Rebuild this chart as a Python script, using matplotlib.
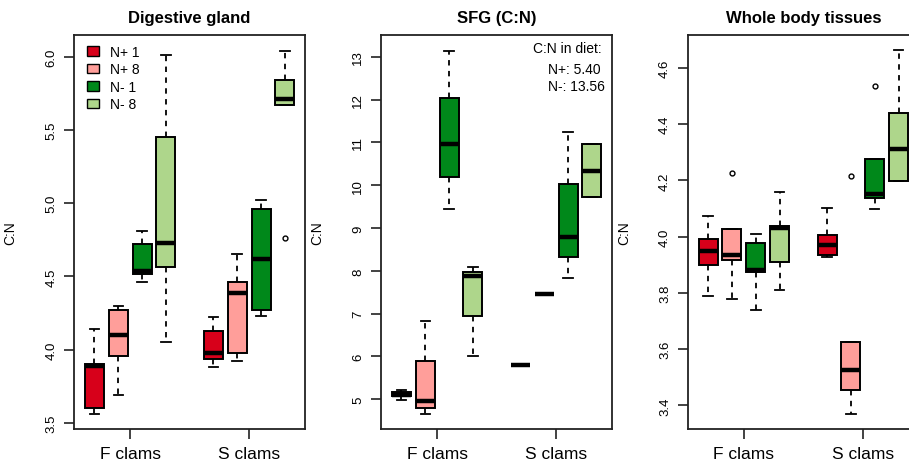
import numpy as np
import matplotlib
matplotlib.use('Agg')
import matplotlib.pyplot as plt
from matplotlib.patches import Patch

plt.rcParams['font.family'] = ['Liberation Sans', 'DejaVu Sans']

groups = ['N+ 1', 'N+ 8', 'N- 1', 'N- 8']
colors = ['#d7001a', '#ff9e9a', '#00881a', '#aed68b']
xlabels = ['F clams', 'S clams']
positions = [1, 2, 3, 4, 6, 7, 8, 9]

# Digestive gland: F clams (4 groups) then S clams (4 groups)
dg_whislo = [3.56, 3.69, 4.46, 4.05, 3.88, 3.92, 4.23, 5.67]
dg_q1 = [3.60, 3.96, 4.52, 4.565, 3.94, 3.98, 4.27, 5.67]
dg_med = [3.89, 4.10, 4.54, 4.73, 3.98, 4.39, 4.62, 5.71]
dg_q3 = [3.905, 4.27, 4.72, 5.45, 4.13, 4.46, 4.96, 5.84]
dg_whishi = [4.14, 4.30, 4.81, 6.01, 4.22, 4.65, 5.02, 6.04]
dg_fliers = [[], [], [], [], [], [], [], [4.76]]

# SFG (C:N)
sfg_whislo = [4.99, 4.65, 9.45, 6.00, 5.79, 7.47, 7.83, 9.72]
sfg_q1 = [5.07, 4.80, 10.19, 6.94, 5.79, 7.47, 8.32, 9.72]
sfg_med = [5.11, 4.96, 10.95, 7.89, 5.79, 7.47, 8.80, 10.33]
sfg_q3 = [5.16, 5.90, 12.04, 7.98, 5.79, 7.47, 10.03, 10.95]
sfg_whishi = [5.22, 6.82, 13.14, 8.08, 5.79, 7.47, 11.23, 10.95]
sfg_fliers = [[], [], [], [], [], [], [], []]

# Whole body tissues
wb_whislo = [3.79, 3.78, 3.74, 3.81, 3.926, 3.37, 4.10, 4.197]
wb_q1 = [3.90, 3.917, 3.875, 3.91, 3.935, 3.454, 4.136, 4.199]
wb_med = [3.949, 3.936, 3.88, 4.03, 3.972, 3.527, 4.152, 4.312]
wb_q3 = [3.993, 4.027, 3.979, 4.039, 4.007, 3.626, 4.276, 4.441]
wb_whishi = [4.072, 4.027, 4.008, 4.160, 4.102, 3.626, 4.276, 4.662]
wb_fliers = [[], [4.225], [], [], [], [4.217], [4.534], []]

diet_title = 'C:N in diet:'
diet_lines = ['N+: 5.40', 'N-: 13.56']

panels = [
    ('Digestive gland', dg_whislo, dg_q1, dg_med, dg_q3, dg_whishi, dg_fliers, (3.459, 6.148), [3.5, 4.0, 4.5, 5.0, 5.5, 6.0], '%.1f'),
    ('SFG (C:N)', sfg_whislo, sfg_q1, sfg_med, sfg_q3, sfg_whishi, sfg_fliers, (4.307, 13.506), [5, 6, 7, 8, 9, 10, 11, 12, 13], '%d'),
    ('Whole body tissues', wb_whislo, wb_q1, wb_med, wb_q3, wb_whishi, wb_fliers, (3.316, 4.717), [3.4, 3.6, 3.8, 4.0, 4.2, 4.4, 4.6], '%.1f'),
]

fig = plt.figure(figsize=(9.09, 4.64), dpi=100)
lefts = [74, 381, 687.7]
axw = 231.3 / 909
for k, (title, wlo, q1, med, q3, whi, fl, ylim, yt, fmt) in enumerate(panels):
    ax = fig.add_axes([lefts[k] / 909, 1 - 430 / 464, axw, 394 / 464])
    stats = []
    for i in range(8):
        stats.append(dict(whislo=wlo[i], q1=q1[i], med=med[i], q3=q3[i], whishi=whi[i], fliers=fl[i]))
    bp = ax.bxp(stats, positions=positions, widths=0.8, capwidths=0.4, patch_artist=True,
                boxprops=dict(linewidth=1.4, edgecolor='black'),
                medianprops=dict(color='black', linewidth=3.2, solid_capstyle='butt'),
                whiskerprops=dict(linewidth=1.3, linestyle=(0, (3, 3)), color='black'),
                capprops=dict(linewidth=1.3, color='black'),
                flierprops=dict(marker='o', markersize=3.5, markerfacecolor='none',
                                markeredgecolor='black', markeredgewidth=1.0))
    for i, box in enumerate(bp['boxes']):
        box.set_facecolor(colors[i % 4])
    ax.set_xlim(0.14, 9.86)
    ax.set_ylim(*ylim)
    ax.set_xticks([2.5, 7.5])
    ax.set_xticklabels(xlabels, fontsize=12.5)
    ax.set_yticks(yt)
    ax.set_yticklabels([fmt % v for v in yt], rotation=90, va='center', fontsize=9.5)
    ax.tick_params(direction='out', length=7, width=1.2, color='#222222')
    ax.tick_params(axis='x', pad=5)
    ax.tick_params(axis='y', pad=5)
    for s in ax.spines.values():
        s.set_linewidth(1.3)
        s.set_color('#222222')
    ax.set_ylabel('C:N', fontsize=10)
    ax.yaxis.set_label_coords(-0.245, 0.5)
    ax.set_title(title, fontsize=12, fontweight='bold', pad=9)

    if k == 0:
        handles = [Patch(facecolor=c, edgecolor='black', linewidth=1.0) for c in colors]
        ax.legend(handles, groups, loc='upper left', bbox_to_anchor=(0.055, 0.975),
                  frameon=False, fontsize=10, borderpad=0, borderaxespad=0,
                  handlelength=0.85, handleheight=0.65, handletextpad=0.85,
                  labelspacing=0.25)
    if k == 1:
        ax.text(0.656, 0.966, diet_title, transform=ax.transAxes, fontsize=10, ha='left', va='center')
        ax.text(0.723, 0.913, diet_lines[0], transform=ax.transAxes, fontsize=10, ha='left', va='center')
        ax.text(0.723, 0.870, diet_lines[1], transform=ax.transAxes, fontsize=10, ha='left', va='center')

fig.savefig('out.png', dpi=100)
